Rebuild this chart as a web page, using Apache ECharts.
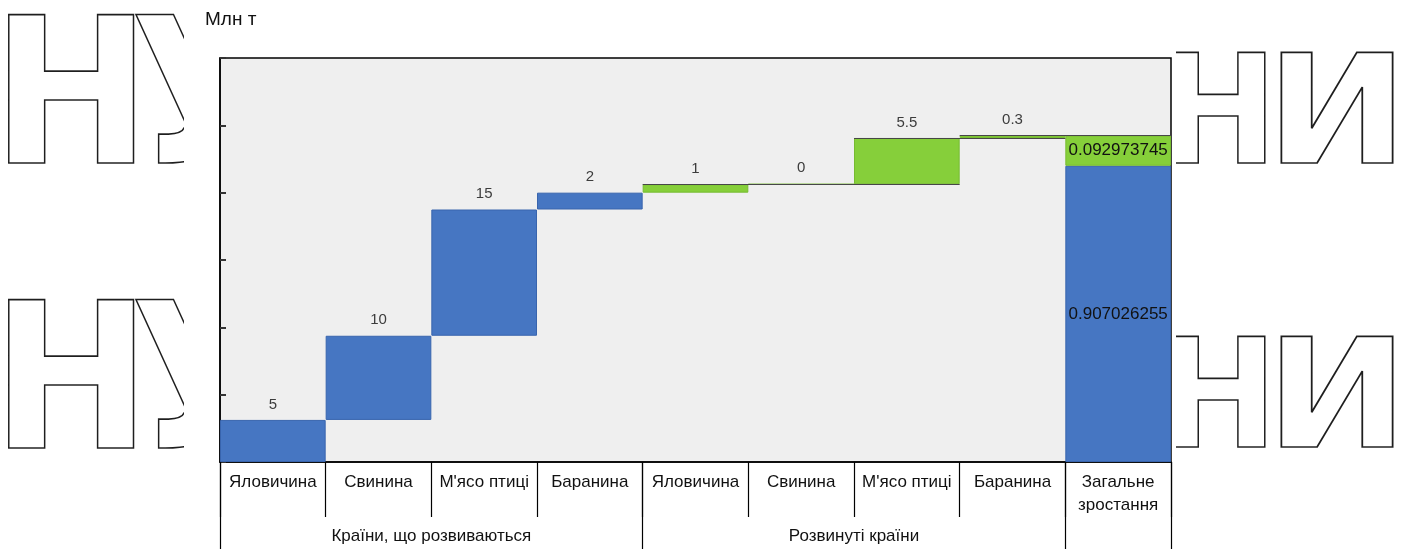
<!DOCTYPE html>
<html>
<head>
<meta charset="utf-8">
<script src="https://cdn.jsdelivr.net/npm/echarts@6/dist/echarts.min.js"></script>
<style>
  html, body { margin: 0; padding: 0; background: #ffffff; }
  #chart { width: 1405px; height: 549px; }
</style>
</head>
<body>
<div id="chart"></div>
<script>
// Categories along the bottom (first row) and the groups under them (second row)
const categories = ['Яловичина', 'Свинина', "М'ясо птиці", 'Баранина',
                    'Яловичина', 'Свинина', "М'ясо птиці", 'Баранина',
                    'Загальне\nзростання'];
const groupNames = ['Країни, що розвиваються', 'Розвинуті країни'];
const groupSizes = [4, 4];

// Increments, Mln t
const developingValues = [5, 10, 15, 2];
const developedValues = [1, 0, 5.5, 0.3];
// Shares of the overall growth shown in the last column
const totalShares = [0.907026255, 0.092973745];

// Value axis ticks
const yMin = 0, yMax = 48, yStep = 8;

const FONT = '"Liberation Sans", Arial, sans-serif';
const BLUE = '#4676c2';
const GREEN = '#86cf3a';

// running sums for the waterfall
const steps = developingValues.concat(developedValues);
const starts = [];
let running = 0;
steps.forEach(v => { starts.push(running); running += v; });
const grandTotal = running;
const last = categories.length - 1;

const baseData = categories.map((c, i) => (i < steps.length ? starts[i] : 0));
const developingData = categories.map((c, i) => (i < developingValues.length ? developingValues[i] : '-'));
const developedData = categories.map((c, i) => {
  const k = i - developingValues.length;
  return k >= 0 && k < developedValues.length ? developedValues[k] : '-';
});
const totalDevelopingData = categories.map((c, i) => (i === last ? totalShares[0] * grandTotal : '-'));
const totalDevelopedData = categories.map((c, i) => (i === last ? totalShares[1] * grandTotal : '-'));

// connectors: each developed-country step's end level, over its own column and the next one
const connectorData = developedValues.map((v, k) => {
  const i = developingValues.length + k;
  return [i, starts[i] + v];
});

// group boundaries and centres on a 0..n scale
const groupEdges = [0];
const groupCentres = [];
groupSizes.forEach(s => {
  const a = groupEdges[groupEdges.length - 1];
  groupCentres.push(a + s / 2);
  groupEdges.push(a + s);
});
groupEdges.push(categories.length);

const chart = echarts.init(document.getElementById('chart'), null, { renderer: 'canvas' });

const valueLabel = {
  show: true,
  position: 'top',
  distance: 8,
  color: '#3c3c3c',
  fontSize: 15,
  fontFamily: FONT
};

// outlined lettering at the sides
function outlineLetter(text, x, y, size, sx) {
  return {
    type: 'text',
    z: -20,
    x: x,
    y: y,
    scaleX: sx,
    silent: true,
    style: {
      text: text,
      font: 'bold ' + size + 'px "DejaVu Sans"',
      fill: 'transparent',
      stroke: '#1e1e1e',
      lineWidth: 1.6,
      align: 'center',
      verticalAlign: 'middle',
      textAlign: 'center',
      textVerticalAlign: 'middle'
    }
  };
}

const option = {
  backgroundColor: '#ffffff',
  animation: false,
  grid: {
    left: 220,
    right: 234,
    top: 58,
    bottom: 87,
    show: true,
    backgroundColor: '#efefef',
    borderColor: '#000000',
    borderWidth: 1.5,
    containLabel: false
  },
  xAxis: [
    {
      type: 'category',
      data: categories,
      position: 'bottom',
      boundaryGap: true,
      axisLine: { show: true, lineStyle: { color: '#000', width: 1.5 } },
      axisTick: { show: true, interval: 0, length: 55, lineStyle: { color: '#000', width: 1.2 } },
      axisLabel: {
        interval: 0,
        margin: 9,
        fontSize: 17,
        lineHeight: 23,
        color: '#111',
        fontFamily: FONT
      },
      splitLine: { show: false }
    },
    {
      type: 'value',
      min: 0,
      max: categories.length,
      position: 'bottom',
      axisLine: { show: false },
      splitLine: { show: false },
      axisTick: { show: true, customValues: groupEdges, length: 95, lineStyle: { color: '#000', width: 1.2 } },
      axisLabel: {
        show: true,
        customValues: groupCentres,
        margin: 66,
        fontSize: 17,
        color: '#111',
        fontFamily: FONT,
        formatter: v => {
          const k = groupCentres.indexOf(v);
          return k >= 0 ? groupNames[k] : '';
        }
      }
    }
  ],
  yAxis: {
    type: 'value',
    min: yMin,
    max: yMax,
    interval: yStep,
    axisLine: { show: true, lineStyle: { color: '#000', width: 1.5 } },
    axisTick: { show: true, inside: true, length: 6, lineStyle: { color: '#333', width: 2 } },
    axisLabel: { show: false },
    splitLine: { show: false }
  },
  graphic: [
    outlineLetter('Н', 71, 110, 203, 0.94),
    outlineLetter('У', 204, 110, 203, 0.94),
    outlineLetter('Н', 71, 395, 203, 0.94),
    outlineLetter('У', 204, 395, 203, 0.94),
    outlineLetter('Н', 1218, 124, 152, 0.94),
    outlineLetter('И', 1337, 124, 152, 1.12),
    outlineLetter('Н', 1218, 408, 152, 0.94),
    outlineLetter('И', 1337, 408, 152, 1.12),
    // white margins around the plot
    { type: 'rect', z: -10, silent: true, shape: { x: 184, y: 0, width: 36, height: 549 }, style: { fill: '#ffffff' } },
    { type: 'rect', z: -10, silent: true, shape: { x: 184, y: 0, width: 990, height: 58 }, style: { fill: '#ffffff' } },
    { type: 'rect', z: -10, silent: true, shape: { x: 1100, y: 0, width: 76, height: 549 }, style: { fill: '#ffffff' } },
    {
      type: 'text',
      z: 10,
      x: 205,
      y: 20,
      style: {
        text: 'Млн т',
        font: '19px ' + FONT,
        fill: '#111',
        verticalAlign: 'middle',
        textVerticalAlign: 'middle'
      }
    }
  ],
  series: [
    {
      name: 'base',
      type: 'bar',
      stack: 'w',
      barCategoryGap: '0%',
      itemStyle: { color: 'transparent' },
      emphasis: { disabled: true },
      data: baseData
    },
    {
      name: 'Країни, що розвиваються',
      type: 'bar',
      stack: 'w',
      barCategoryGap: '0%',
      itemStyle: { color: BLUE, borderColor: '#3864ad', borderWidth: 1 },
      label: valueLabel,
      data: developingData
    },
    {
      name: 'Розвинуті країни',
      type: 'bar',
      stack: 'w',
      barCategoryGap: '0%',
      itemStyle: { color: GREEN, borderColor: '#76bb31', borderWidth: 1 },
      label: valueLabel,
      data: developedData
    },
    {
      name: 'total-developing',
      type: 'bar',
      stack: 'w',
      barCategoryGap: '0%',
      itemStyle: { color: BLUE, borderColor: '#3864ad', borderWidth: 1 },
      label: {
        show: true,
        position: 'inside',
        color: '#111',
        fontSize: 17,
        fontFamily: FONT,
        formatter: () => String(totalShares[0])
      },
      data: totalDevelopingData
    },
    {
      name: 'total-developed',
      type: 'bar',
      stack: 'w',
      barCategoryGap: '0%',
      itemStyle: { color: GREEN, borderColor: '#76bb31', borderWidth: 1 },
      label: {
        show: true,
        position: 'inside',
        color: '#111',
        fontSize: 17,
        fontFamily: FONT,
        formatter: () => String(totalShares[1])
      },
      data: totalDevelopedData
    },
    {
      name: 'connectors',
      type: 'custom',
      z: 5,
      silent: true,
      encode: { x: 0, y: 1 },
      renderItem: (params, api) => {
        const p = api.coord([api.value(0), api.value(1)]);
        const w = api.size([1, 0])[0];
        const y = Math.round(p[1]) + 0.5;
        return {
          type: 'line',
          shape: { x1: p[0] - w / 2, y1: y, x2: p[0] + w * 1.5, y2: y },
          style: { stroke: '#474747', lineWidth: 1 }
        };
      },
      data: connectorData
    }
  ]
};

chart.setOption(option);
</script>
</body>
</html>
